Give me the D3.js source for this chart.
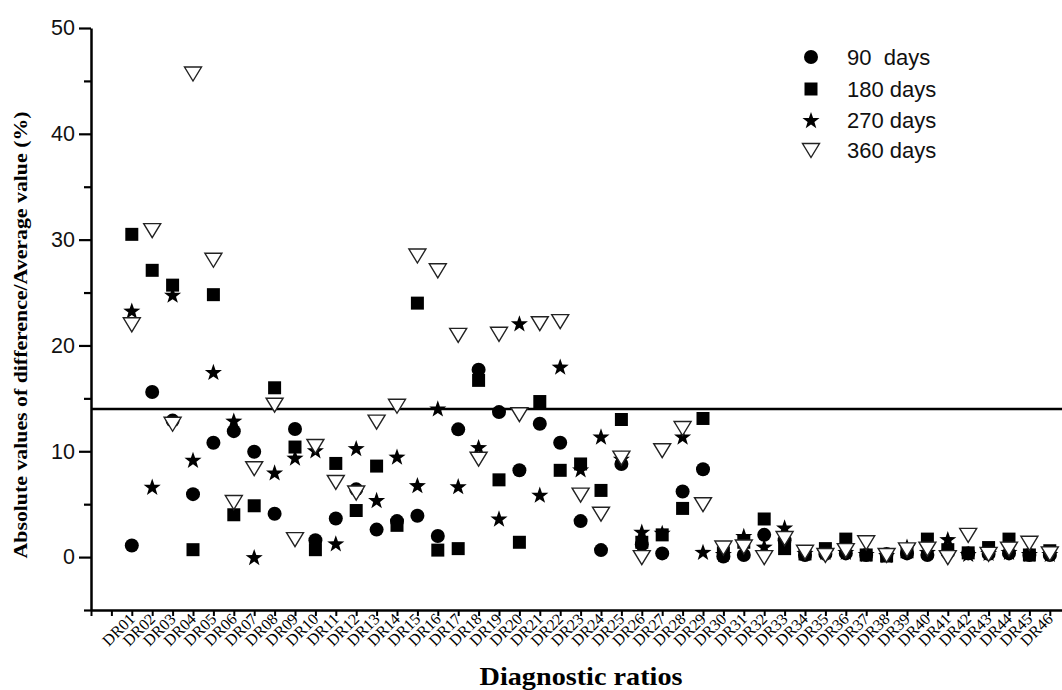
<!DOCTYPE html>
<html><head><meta charset="utf-8">
<script src="https://cdn.jsdelivr.net/npm/d3@7/dist/d3.min.js"></script>
<style>
html,body{margin:0;padding:0;background:#fff;}
svg{display:block;}
</style></head>
<body><svg id="chart" width="1062" height="690"></svg>
<script>
const categories = ["DR01","DR02","DR03","DR04","DR05","DR06","DR07","DR08","DR09","DR10",
"DR11","DR12","DR13","DR14","DR15","DR16","DR17","DR18","DR19","DR20",
"DR21","DR22","DR23","DR24","DR25","DR26","DR27","DR28","DR29","DR30",
"DR31","DR32","DR33","DR34","DR35","DR36","DR37","DR38","DR39","DR40",
"DR41","DR42","DR43","DR44","DR45","DR46"];

const days90 = [1.1,15.6,12.9,5.95,10.8,11.9,9.95,4.1,12.1,1.6,
3.65,6.4,2.6,3.4,3.9,2.0,12.07,17.7,13.7,8.2,
12.6,10.8,3.4,0.66,8.8,1.2,0.35,6.2,8.3,0.05,
0.2,2.1,1.6,0.2,0.3,0.35,0.2,0.3,0.35,0.2,
0.4,0.35,0.3,0.35,0.2,0.2];
const days180 = [30.5,27.1,25.7,0.7,24.8,4.0,4.85,16.0,10.4,0.7,
8.85,4.4,8.6,3.0,24.0,0.66,0.8,16.7,7.3,1.4,
14.7,8.2,8.8,6.3,13.0,1.4,2.1,4.6,13.1,0.4,
1.4,3.6,0.8,0.3,0.8,1.7,0.2,0.1,0.5,1.7,
0.7,0.4,0.9,1.7,0.2,0.6];
const days270 = [23.3,6.65,24.8,9.2,17.5,12.9,0.0,8.0,9.4,10.1,
1.3,10.3,5.4,9.5,6.8,14.05,6.7,10.4,3.65,22.1,
5.9,18.0,8.3,11.4,9.3,2.4,2.3,11.4,0.5,0.3,
2.0,1.0,2.8,0.4,0.5,0.5,0.3,0.2,1.0,0.5,
1.7,0.3,0.4,0.5,0.3,0.3];
const days360 = [22.0,30.9,12.6,45.7,28.1,5.2,8.4,14.4,1.7,10.5,
7.1,6.1,12.8,14.3,28.5,27.1,21.0,9.3,21.1,13.5,
22.1,22.3,5.9,4.1,9.4,0.0,10.1,12.2,5.0,0.9,
1.0,0.0,1.8,0.5,0.2,0.66,1.4,0.2,0.73,0.8,
0.0,2.1,0.3,0.8,1.35,0.35];

const seriesNames = ["90  days","180 days","270 days","360 days"];
const yTicks = [0,10,20,30,40,50];
const yMinorTicks = [-5,5,15,25,35,45];
const refLine = 14;
const xTitle = "Diagnostic ratios";
const yTitle = "Absolute values of difference/Average value (%)";

const svg = d3.select("#chart");
const x = d3.scaleLinear().domain([-1, 47]).range([91, 91 + 48*20.4]);
const y = d3.scaleLinear().domain([-5, 50]).range([610, 28]);

function starPath(R){
  const r = R*0.40; let p=[];
  for(let i=0;i<10;i++){
    const a = -Math.PI/2 + i*Math.PI/5;
    const rr = i%2===0?R:r;
    p.push([rr*Math.cos(a), rr*Math.sin(a)+R*0.1]);
  }
  return "M"+p.map(d=>d[0].toFixed(2)+","+d[1].toFixed(2)).join("L")+"Z";
}
const triPath = "M-8.5,-6.5L8.5,-6.5L0,7.5Z";
const sqPath = "M-6.5,-6.5L6.5,-6.5L6.5,6.5L-6.5,6.5Z";

function drawMarker(g, kind){
  if(kind===0) g.append("circle").attr("r",7).attr("fill","#000");
  else if(kind===1) g.append("path").attr("d",sqPath).attr("fill","#000");
  else if(kind===2) g.append("path").attr("d",starPath(9)).attr("fill","#000");
  else g.append("path").attr("d",triPath).attr("fill","#fff").attr("stroke","#222").attr("stroke-width",1.4);
}

// Y axis
const yAxis = svg.append("g").attr("transform","translate(91,0)")
  .call(d3.axisLeft(y).tickValues(yTicks).tickSize(12).tickSizeOuter(0).tickPadding(4));
yAxis.select(".domain").attr("stroke","#000").attr("stroke-width",2.5);
yAxis.selectAll(".tick line").attr("stroke","#000").attr("stroke-width",2.2);
yAxis.selectAll(".tick text").attr("font-family","Liberation Sans, Arial, sans-serif")
  .attr("font-size",21.5).attr("fill","#111");
const yMinor = svg.append("g").attr("transform","translate(91,0)")
  .call(d3.axisLeft(y).tickValues(yMinorTicks).tickSize(7).tickSizeOuter(0).tickFormat(""));
yMinor.select(".domain").remove();
yMinor.selectAll(".tick line").attr("stroke","#000").attr("stroke-width",2.2);

// X axis (ticks only)
const xAxis = svg.append("g").attr("transform","translate(0,610)")
  .call(d3.axisBottom(x).tickValues(d3.range(-1,47)).tickSize(6).tickSizeOuter(0).tickFormat(""));
xAxis.select(".domain").attr("stroke","#000").attr("stroke-width",2.5);
xAxis.selectAll(".tick line").attr("stroke","#000").attr("stroke-width",2);

// X tick labels, rotated 45 degrees
svg.append("g").selectAll("text").data(categories).join("text")
  .attr("transform",(d,i)=>"translate(" + (x(i+1)+4) + ",620) rotate(-45)")
  .attr("text-anchor","end")
  .attr("font-family","Liberation Serif, Times New Roman, serif")
  .attr("font-size",16).attr("fill","#000")
  .text(d=>d);

// Reference line
svg.append("line").attr("x1",91).attr("x2",1062).attr("y1",y(refLine)).attr("y2",y(refLine))
  .attr("stroke","#000").attr("stroke-width",2.6);

// Points
const allSeries = [days90, days180, days270, days360];
allSeries.forEach((vals, k) => {
  const g = svg.append("g");
  vals.forEach((v,i) => {
    const m = g.append("g").attr("transform",`translate(${x(i+1)},${y(v)})`);
    drawMarker(m,k);
  });
});

// Legend
const legendY = [57, 89, 120, 150];
seriesNames.forEach((n,k) => {
  const m = svg.append("g").attr("transform",`translate(811,${legendY[k]})`);
  drawMarker(m,k);
  svg.append("text").attr("x",847).attr("y",legendY[k]+8)
    .attr("font-family","Liberation Sans, Arial, sans-serif").attr("font-size",22)
    .attr("fill","#111").style("white-space","pre").text(n);
});

// Titles
svg.append("text").attr("x",581).attr("y",685).attr("text-anchor","middle")
  .attr("font-family","Liberation Serif, Times New Roman, serif").attr("font-weight","bold")
  .attr("font-size",26).attr("textLength",203).attr("lengthAdjust","spacingAndGlyphs").text(xTitle);
svg.append("text").attr("transform","translate(27,335) rotate(-90)").attr("text-anchor","middle")
  .attr("font-family","Liberation Serif, Times New Roman, serif").attr("font-weight","bold")
  .attr("font-size",18).attr("textLength",447).attr("lengthAdjust","spacingAndGlyphs").text(yTitle);
</script></body></html>
